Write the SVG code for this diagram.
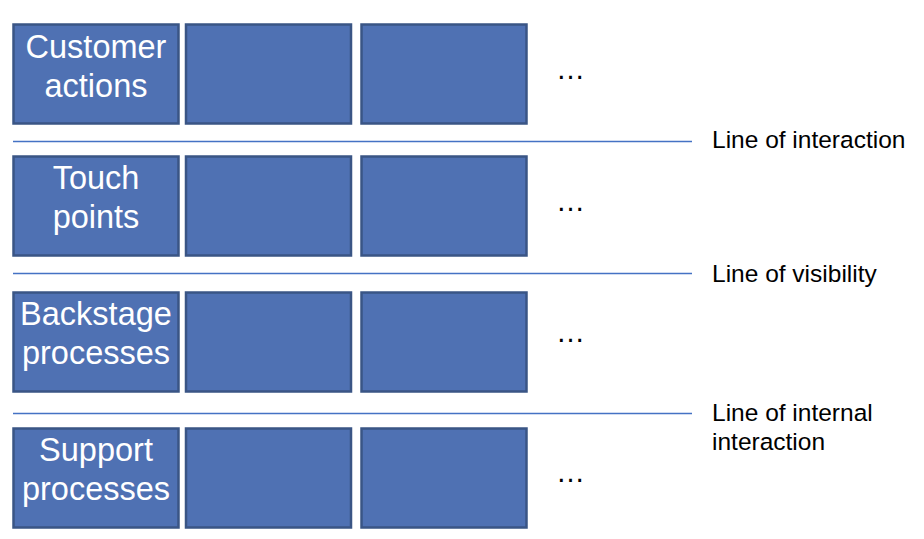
<svg xmlns="http://www.w3.org/2000/svg" width="924" height="539" viewBox="0 0 924 539">
<style>
.box{fill:#4F71B3;stroke:#3A5585;stroke-width:2.5}
.lbl{font-family:"Liberation Sans",Arial,sans-serif;font-size:32.5px;fill:#fff;text-anchor:middle}
.dots{font-family:"Liberation Sans",Arial,sans-serif;font-size:29px;fill:#000}
.sep{stroke:#4472C4;stroke-width:1.5}
.side{font-family:"Liberation Sans",Arial,sans-serif;font-size:24.5px;fill:#000}
</style>
<rect width="924" height="539" fill="#fff"/>
<g id="row1">
<g id="customer-actions"><rect class="box" x="13.5" y="24.5" width="165" height="99"/><text class="lbl" x="96" y="58">Customer</text><text class="lbl" x="96" y="97">actions</text></g>
<g id="r1b2"><rect class="box" x="186" y="24.5" width="165" height="99"/></g>
<g id="r1b3"><rect class="box" x="361.5" y="24.5" width="165" height="99"/></g>
<text class="dots" x="556" y="79">…</text>
</g>
<g id="row2">
<g id="touch-points"><rect class="box" x="13.5" y="156.5" width="165" height="99"/><text class="lbl" x="96" y="189">Touch</text><text class="lbl" x="96" y="228">points</text></g>
<g id="r2b2"><rect class="box" x="186" y="156.5" width="165" height="99"/></g>
<g id="r2b3"><rect class="box" x="361.5" y="156.5" width="165" height="99"/></g>
<text class="dots" x="556" y="211">…</text>
</g>
<g id="row3">
<g id="backstage"><rect class="box" x="13.5" y="292.5" width="165" height="99"/><text class="lbl" x="96" y="325">Backstage</text><text class="lbl" x="96" y="364">processes</text></g>
<g id="r3b2"><rect class="box" x="186" y="292.5" width="165" height="99"/></g>
<g id="r3b3"><rect class="box" x="361.5" y="292.5" width="165" height="99"/></g>
<text class="dots" x="556" y="342">…</text>
</g>
<g id="row4">
<g id="support"><rect class="box" x="13.5" y="428.5" width="165" height="99"/><text class="lbl" x="96" y="461">Support</text><text class="lbl" x="96" y="500">processes</text></g>
<g id="r4b2"><rect class="box" x="186" y="428.5" width="165" height="99"/></g>
<g id="r4b3"><rect class="box" x="361.5" y="428.5" width="165" height="99"/></g>
<text class="dots" x="556" y="482">…</text>
</g>
<g id="connectors">
<line class="sep" x1="13" y1="141.5" x2="692" y2="141.5"/>
<line class="sep" x1="13" y1="273.5" x2="692" y2="273.5"/>
<line class="sep" x1="13" y1="413.5" x2="692" y2="413.5"/>
</g>
<g id="labels">
<text class="side" x="712" y="148">Line of interaction</text>
<text class="side" x="712" y="282">Line of visibility</text>
<text class="side" x="712" y="421">Line of internal</text>
<text class="side" x="712" y="450">interaction</text>
</g>
</svg>
